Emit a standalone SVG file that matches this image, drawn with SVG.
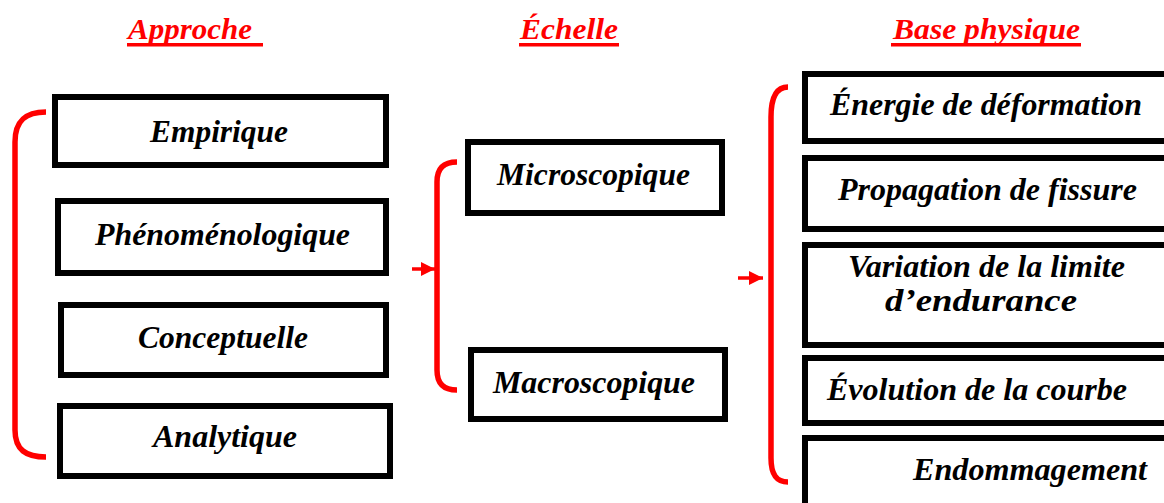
<svg xmlns="http://www.w3.org/2000/svg" width="1164" height="503" viewBox="0 0 1164 503">
<defs>
<style>
.box{fill:#fff;stroke:#000;stroke-width:6}
.t{font-family:"Liberation Serif","Times New Roman",serif;font-weight:bold;font-style:italic;font-size:31px;fill:#000}
.h{font-family:"Liberation Serif","Times New Roman",serif;font-weight:bold;font-style:italic;font-size:30px;fill:#ff0000}
.ul{fill:#ff0000}
.br{fill:none;stroke:#ff0000;stroke-width:5.5;stroke-linecap:butt}
.ar{stroke:#ff0000;stroke-width:3.5}
</style>
<marker id="ah" markerWidth="4" markerHeight="4" refX="4" refY="2" orient="auto" markerUnits="strokeWidth">
<path d="M0,0 L4,2 L0,4 Z" fill="#ff0000"/>
</marker>
</defs>
<rect width="1164" height="503" fill="#fff"/>

<g id="headers">
<text class="h" x="128" y="39" textLength="124" lengthAdjust="spacingAndGlyphs">Approche</text>
<rect class="ul" x="127" y="43" width="136" height="3.5"/>
<text class="h" x="520" y="39" textLength="98" lengthAdjust="spacingAndGlyphs">Échelle</text>
<rect class="ul" x="519" y="43" width="100" height="3.5"/>
<text class="h" x="893" y="39" textLength="187" lengthAdjust="spacingAndGlyphs">Base physique</text>
<rect class="ul" x="891" y="43" width="190" height="3.5"/>
</g>

<g id="connectors">
<path class="br" d="M46,112 C26,112 15,120 15,142 L15,430 C15,450 26,457 46,457"/>
<path class="br" d="M457,162 C444,162 437,168 437,182 L437,370 C437,384 444,390 457,390"/>
<path class="br" d="M788,87 C776,87 771,98 771,117 L771,458 C771,474 776,482 788,482"/>
<line class="ar" x1="412" y1="269" x2="435" y2="269" marker-end="url(#ah)"/>
<line class="ar" x1="738" y1="278" x2="763" y2="278" marker-end="url(#ah)"/>
</g>

<g id="n-empirique">
<rect class="box" x="55" y="97" width="331" height="68"/>
<text class="t" x="150" y="142" textLength="138" lengthAdjust="spacingAndGlyphs">Empirique</text>
</g>
<g id="n-phenomenologique">
<rect class="box" x="58" y="201" width="328" height="72"/>
<text class="t" x="95" y="245" textLength="255" lengthAdjust="spacingAndGlyphs">Phénoménologique</text>
</g>
<g id="n-conceptuelle">
<rect class="box" x="61" y="305" width="325" height="70"/>
<text class="t" x="138" y="348" textLength="170" lengthAdjust="spacingAndGlyphs">Conceptuelle</text>
</g>
<g id="n-analytique">
<rect class="box" x="60" y="406" width="330" height="70"/>
<text class="t" x="153" y="447" textLength="144" lengthAdjust="spacingAndGlyphs">Analytique</text>
</g>

<g id="n-microscopique">
<rect class="box" x="468" y="142" width="254" height="71"/>
<text class="t" x="497" y="185" textLength="193" lengthAdjust="spacingAndGlyphs">Microscopique</text>
</g>
<g id="n-macroscopique">
<rect class="box" x="471" y="350" width="254" height="69"/>
<text class="t" x="493" y="393" textLength="202" lengthAdjust="spacingAndGlyphs">Macroscopique</text>
</g>

<g id="n-energie">
<rect class="box" x="805" y="74" width="400" height="67"/>
<text class="t" x="830" y="115" textLength="312" lengthAdjust="spacingAndGlyphs">Énergie de déformation</text>
</g>
<g id="n-propagation">
<rect class="box" x="805" y="158" width="400" height="71"/>
<text class="t" x="838" y="200" textLength="299" lengthAdjust="spacingAndGlyphs">Propagation de fissure</text>
</g>
<g id="n-variation">
<rect class="box" x="805" y="245" width="400" height="100"/>
<text class="t" x="848" y="277" textLength="277" lengthAdjust="spacingAndGlyphs">Variation de la limite</text>
<text class="t" x="885" y="311" textLength="192" lengthAdjust="spacingAndGlyphs">d’endurance</text>
</g>
<g id="n-evolution">
<rect class="box" x="805" y="358" width="400" height="65"/>
<text class="t" x="827" y="400" textLength="300" lengthAdjust="spacingAndGlyphs">Évolution de la courbe</text>
</g>
<g id="n-endommagement">
<rect class="box" x="805" y="438" width="400" height="100"/>
<text class="t" x="913" y="480" textLength="234" lengthAdjust="spacingAndGlyphs">Endommagement</text>
</g>
</svg>
